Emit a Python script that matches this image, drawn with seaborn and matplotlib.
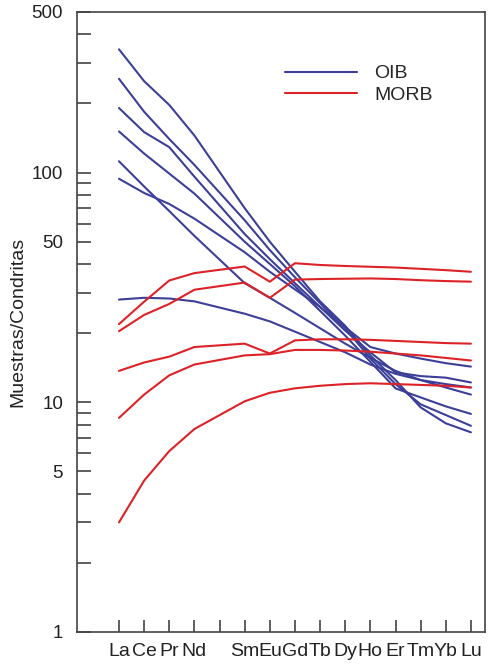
import numpy as np
import pandas as pd
import matplotlib
matplotlib.use("Agg")
import matplotlib.pyplot as plt
import seaborn as sns

# elementos (Pm sin dato, solo marca en el eje)
elements = ['La', 'Ce', 'Pr', 'Nd', 'Pm', 'Sm', 'Eu', 'Gd', 'Tb', 'Dy', 'Ho', 'Er', 'Tm', 'Yb', 'Lu']
measured = ['La', 'Ce', 'Pr', 'Nd', 'Sm', 'Eu', 'Gd', 'Tb', 'Dy', 'Ho', 'Er', 'Tm', 'Yb', 'Lu']

# OIB, normalizado a condrita
oib_1 = [344, 250, 197, 145, 70, 50, 37, 27.5, 21.5, 16, 12.5, 9.5, 8.1, 7.4]
oib_2 = [256, 184, 140, 108, 62, 46, 35, 27, 21, 15.5, 12.0, 9.8, 8.8, 7.9]
oib_3 = [191, 150, 129, 96, 54, 42, 33, 26, 20.5, 16.5, 13.5, 13.0, 12.8, 12.2]
oib_4 = [151, 121, 99, 81, 50, 40, 32, 25, 19.5, 15, 11.5, 10.5, 9.6, 8.9]
oib_5 = [112, 87, 68, 53, 33, 28.5, 24.5, 21, 18, 15.6, 13.7, 12.5, 11.6, 10.8]
oib_6 = [94, 81.5, 73, 63, 45, 37, 31, 26, 21.2, 17.4, 16.3, 15.5, 14.8, 14.3]
oib_7 = [28, 28.5, 28.3, 27.5, 24.3, 22.5, 20.3, 18.3, 16.5, 14.6, 13.3, 12.5, 12.0, 11.6]

# MORB
morb_1 = [21.9, 27.4, 33.9, 36.5, 39.0, 33.5, 40.3, 39.6, 39.2, 38.9, 38.6, 38.1, 37.6, 37.0]
morb_2 = [20.4, 24.0, 26.8, 30.9, 33.2, 28.5, 34.2, 34.4, 34.5, 34.6, 34.4, 34.0, 33.7, 33.5]
morb_3 = [13.7, 14.9, 15.8, 17.4, 18.0, 16.3, 18.6, 18.8, 18.8, 18.7, 18.5, 18.3, 18.1, 18.0]
morb_4 = [8.55, 10.8, 13.1, 14.6, 16.0, 16.2, 16.9, 16.9, 16.8, 16.6, 16.3, 16.0, 15.6, 15.2]
morb_5 = [3.0, 4.56, 6.13, 7.65, 10.1, 11.0, 11.5, 11.8, 12.0, 12.1, 12.0, 11.9, 11.8, 11.6]

oib = [oib_1, oib_2, oib_3, oib_4, oib_5, oib_6, oib_7]
morb = [morb_1, morb_2, morb_3, morb_4, morb_5]

rows = []
for grupo, muestras in [('OIB', oib), ('MORB', morb)]:
    for i, vals in enumerate(muestras):
        for el, v in zip(measured, vals):
            rows.append({'grupo': grupo, 'muestra': f'{grupo}_{i}',
                         'pos': elements.index(el), 'valor': v})
df = pd.DataFrame(rows)

sns.set_style('ticks')
plt.rcParams['font.family'] = ['Liberation Sans', 'DejaVu Sans']

fig = plt.figure(figsize=(4.95, 6.67), dpi=100)
ax = fig.add_axes([77 / 495, 35 / 667, 408 / 495, 620 / 667])

colores = {'OIB': '#3c3f98', 'MORB': '#dc2227'}
sns.lineplot(data=df, x='pos', y='valor', hue='grupo', units='muestra',
             estimator=None, sort=False, palette=colores, lw=1.5, ax=ax,
             legend=True)

ax.set_yscale('log')
ax.set_ylim(1, 500)
ax.set_xlim(-1.67, 14.56)

ax.set_yticks([1, 5, 10, 50, 100, 500])
ax.set_yticklabels(['1', '5', '10', '50', '100', '500'])
ax.set_yticks([2, 3, 4, 6, 7, 8, 9, 20, 30, 40, 60, 70, 80, 90, 200, 300, 400], minor=True)
ax.yaxis.set_minor_formatter(matplotlib.ticker.NullFormatter())
ax.set_xticks(range(len(elements)))
ax.set_xticklabels(['' if e == 'Pm' else e for e in elements])
ax.xaxis.set_minor_locator(matplotlib.ticker.NullLocator())

ax.tick_params(axis='y', which='both', direction='in', length=10, width=1.1,
               labelsize=13.5, pad=10, colors='#333333', labelcolor='#222222')
ax.tick_params(axis='x', which='both', direction='in', length=8.5, width=1.1,
               labelsize=14, pad=8, colors='#333333', labelcolor='#222222')

for s in ax.spines.values():
    s.set_linewidth(1.2)
    s.set_color('#444444')

ax.set_xlabel('')
ax.set_ylabel('Muestras/Condritas', fontsize=14, color='#222222')
ax.yaxis.set_label_coords(-0.125, 0.5)

handles, labels = ax.get_legend_handles_labels()
ax.legend(handles, labels, loc='upper left', bbox_to_anchor=(0.51, 0.915),
          frameon=False, fontsize=14, handlelength=3.7, handletextpad=0.9,
          labelspacing=0.2, borderpad=0, borderaxespad=0)

fig.savefig('out.png', dpi=100)
